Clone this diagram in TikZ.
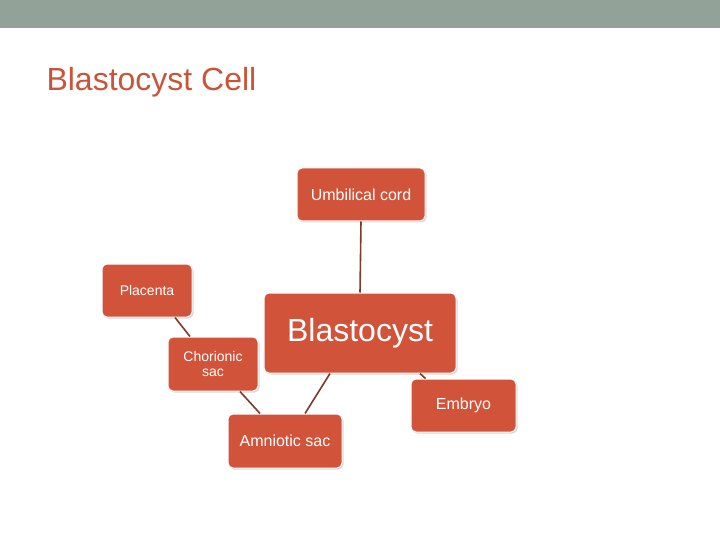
\documentclass[tikz,border=0pt]{standalone}
\usepackage{fontspec}
\setmainfont{Liberation Sans}
\usetikzlibrary{shadows}
\definecolor{band}{HTML}{93A299}
\definecolor{box}{HTML}{D1533A}
\definecolor{ttl}{HTML}{C8553A}
\definecolor{lnk}{HTML}{7E3B2C}
\begin{document}
\begin{tikzpicture}[x=1pt,y=-1pt,
  bx/.style={draw=white,line width=1pt,fill=box,rounded corners=5pt,text=white,align=center,inner sep=0pt,drop shadow={shadow xshift=1.5pt,shadow yshift=-1.5pt,opacity=0.3}},
  ln/.style={draw=lnk,line width=1.6pt}]
\useasboundingbox (0,0) rectangle (720,540);
\fill[white] (0,0) rectangle (720,540);
\fill[band] (0,0) rectangle (720,28);
\node[anchor=west,text=ttl,font=\fontsize{32}{36}\selectfont] (title) at (43,82) {Blastocyst Cell};
\node[bx,minimum width=128pt,minimum height=53pt,font=\fontsize{16}{19}\selectfont] (umb) at (361,194.5) {Umbilical cord};
\node[bx,minimum width=90pt,minimum height=53pt,font=\fontsize{14}{16}\selectfont] (pla) at (147,290.5) {Placenta};
\node[bx,minimum width=90pt,minimum height=54pt,font=\fontsize{14}{15}\selectfont] (cho) at (213,364) {Chorionic\\sac};
\node[bx,minimum width=192pt,minimum height=80pt,font=\fontsize{32}{36}\selectfont] (bla) at (360,333) {Blastocyst};
\node[bx,minimum width=105pt,minimum height=53pt,font=\fontsize{16}{19}\selectfont] (emb) at (463.5,405.5) {Embryo};
\node[bx,minimum width=114pt,minimum height=54pt,font=\fontsize{16}{19}\selectfont] (amn) at (285,441) {Amniotic sac};
\draw[ln] (umb.south) -- (bla.north);
\draw[ln] (pla.south)++(28,0) -- ([xshift=-23pt]cho.north);
\draw[ln] (cho.south)++(27,0) -- ([xshift=-25pt]amn.north);
\draw[ln] (bla.south)++(-30,0) -- ([xshift=20pt]amn.north);
\draw[ln] (bla.south)++(60,0) -- ([xshift=-38pt]emb.north);
\end{tikzpicture}
\end{document}
